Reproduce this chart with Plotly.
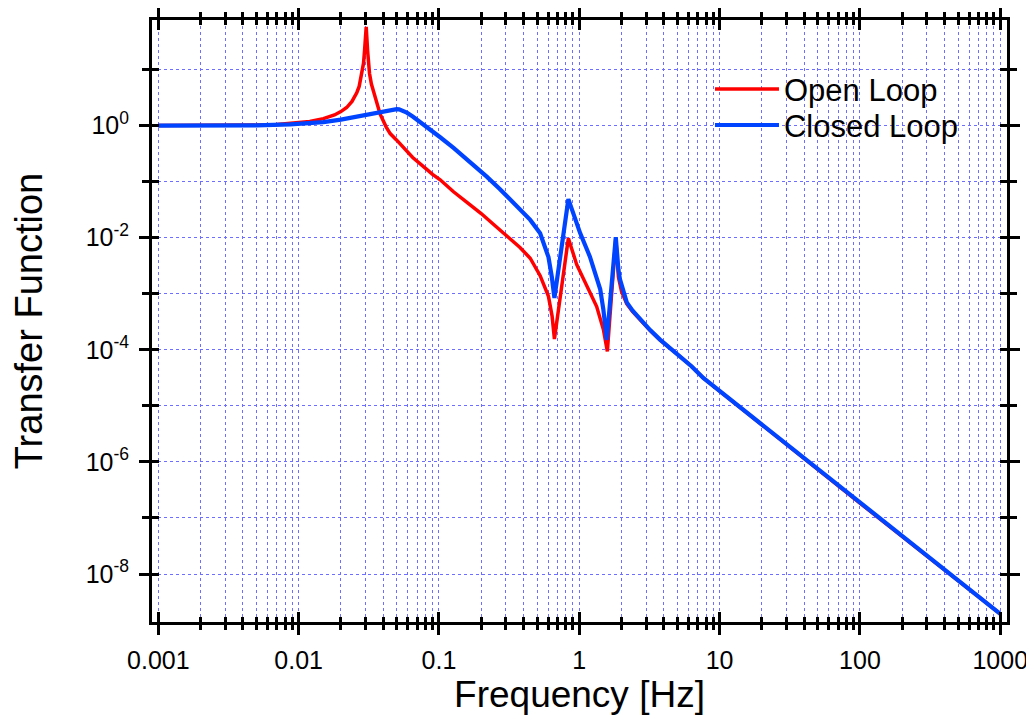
import plotly.graph_objects as go

# ---------------- data ----------------
open_f = [0.001, 0.002, 0.003, 0.005, 0.007, 0.01, 0.012, 0.015, 0.018, 0.02,
          0.022, 0.024, 0.026, 0.027, 0.028, 0.029, 0.0295, 0.0300, 0.0303,
          0.0310, 0.0315, 0.0320, 0.0330, 0.0352, 0.0381, 0.042, 0.0449, 0.050,
          0.057, 0.065, 0.0776, 0.090, 0.102, 0.127, 0.160, 0.200, 0.250, 0.300,
          0.340, 0.378, 0.447, 0.526, 0.603, 0.640, 0.665, 0.836, 0.959, 1.13,
          1.33, 1.485, 1.585, 1.82, 1.86, 1.90, 2.00, 2.18, 2.40, 2.71, 3.20, 3.76,
          4.50, 5.22, 6.30, 7.65, 10, 100, 1000]
open_v = [1.0, 1.0, 1.005, 1.02, 1.05, 1.12, 1.18, 1.33, 1.55, 1.78,
          2.1, 2.7, 3.9, 5.0, 7.5, 13, 22, 45, 58,
          22, 12, 8.5, 5.5, 3.0, 1.6, 0.95, 0.72, 0.55,
          0.38, 0.27, 0.186, 0.135, 0.108, 0.066, 0.042, 0.027, 0.0165, 0.0112,
          0.0086, 0.0067, 0.0043, 0.0021, 9e-4, 4e-4, 1.56e-4, 0.0098, 0.0033, 0.00135,
          5.9e-4, 2.3e-4, 9.4e-5, 0.0098, 0.0035, 0.002, 0.0011, 6.6e-4, 4.8e-4, 3.4e-4, 2.2e-4, 1.5e-4,
          1.05e-4, 7.6e-5, 5.1e-5, 3.14e-5, 1.84e-5, 1.84e-7, 1.95e-9]

closed_f = [0.001, 0.003, 0.005, 0.0087, 0.012, 0.015, 0.02, 0.026, 0.034, 0.040,
            0.045, 0.048, 0.050, 0.052, 0.055, 0.059, 0.065, 0.0697, 0.0776, 0.090, 0.102,
            0.127, 0.150, 0.176, 0.219, 0.270, 0.340, 0.378, 0.447, 0.526, 0.603,
            0.637, 0.665, 0.836, 1.014, 1.19, 1.41, 1.485, 1.57, 1.82, 1.84, 1.86,
            1.90, 1.95, 2.05, 2.18, 2.40, 2.71, 3.20, 3.76, 4.50, 5.22, 6.30, 7.65,
            10, 100, 1000]
closed_v = [1.0, 1.0, 1.01, 1.05, 1.1, 1.15, 1.28, 1.45, 1.66, 1.8,
            1.88, 1.94, 1.96, 1.95, 1.87, 1.7, 1.45, 1.28, 1.05, 0.8, 0.62,
            0.40, 0.28, 0.19, 0.123, 0.075, 0.0414, 0.0314, 0.0208, 0.012, 0.0045,
            0.002, 8.4e-4, 0.0488, 0.0121, 0.0046, 0.0012, 5.2e-4, 1.5e-4, 0.0102, 0.006, 0.004,
            0.0027, 0.0018, 0.0011, 7.0e-4, 5.0e-4, 3.5e-4, 2.25e-4, 1.52e-4, 1.05e-4, 7.6e-5, 5.1e-5, 3.14e-5,
            1.84e-5, 1.84e-7, 1.95e-9]

x_major = [0.001, 0.01, 0.1, 1, 10, 100, 1000]
x_labels = ["0.001", "0.01", "0.1", "1", "10", "100", "1000"]
y_major_exp = [-8, -6, -4, -2, 0]
y_minor_exp = [-7, -5, -3, -1, 1]

# ---------------- styling ----------------
FONT = "Liberation Sans, Arial, sans-serif"
GRID = "rgb(110,110,255)"
x_minor = [m * d for d in [0.0001, 0.001, 0.01, 0.1, 1, 10, 100, 1000] for m in range(2, 10)]
y_major = [10.0 ** e for e in y_major_exp]
y_labels = ["10<sup>%d</sup>" % e for e in y_major_exp]
y_minor = [10.0 ** e for e in y_minor_exp]
XR = [-3.045, 3.048]
YR = [-8.856, 1.884]

fig = go.Figure()
fig.add_trace(go.Scatter(x=open_f, y=open_v, mode="lines", name="Open Loop",
                         line=dict(color="#ff0000", width=3.5), legend="legend"))
fig.add_trace(go.Scatter(x=closed_f, y=closed_v, mode="lines", name="Closed Loop",
                         line=dict(color="#0044ff", width=4.2), legend="legend2"))
# invisible trace to carry the inward-tick overlay axes
fig.add_trace(go.Scatter(x=closed_f, y=closed_v, xaxis="x2", yaxis="y2", mode="lines",
                         line=dict(width=0, color="rgba(0,0,0,0)"), showlegend=False,
                         hoverinfo="skip"))

common_line = dict(showline=True, linecolor="black", linewidth=3, mirror="ticks",
                   tickcolor="black", tickwidth=2.5, zeroline=False, automargin=False)

legend_common = dict(xanchor="left", yanchor="middle", bgcolor="rgba(0,0,0,0)",
                     font=dict(size=31, family=FONT), itemwidth=64, borderwidth=0)

fig.update_layout(
    width=1026, height=713,
    margin=dict(l=144, r=27, t=12, b=99),
    paper_bgcolor="white", plot_bgcolor="white",
    font=dict(family=FONT, color="black"),
    xaxis=dict(type="log", range=XR, tickmode="array", tickvals=x_major, ticktext=x_labels,
               ticks="outside", ticklen=10, ticklabelstandoff=4,
               tickfont=dict(size=25, family=FONT),
               showgrid=True, gridcolor=GRID, gridwidth=1, griddash="3px,3px",
               minor=dict(tickmode="array", tickvals=x_minor, ticks="outside", ticklen=5,
                          tickwidth=2.5, tickcolor="black", showgrid=True, gridcolor=GRID,
                          gridwidth=1, griddash="3px,3px"),
               title=dict(text="Frequency [Hz]", font=dict(size=37, family=FONT), standoff=6),
               **common_line),
    yaxis=dict(type="log", range=YR, tickmode="array", tickvals=y_major, ticktext=y_labels,
               ticks="outside", ticklen=10, ticklabelstandoff=5,
               tickfont=dict(size=25, family=FONT),
               showgrid=True, gridcolor=GRID, gridwidth=1, griddash="3px,3px",
               minor=dict(tickmode="array", tickvals=y_minor, ticks="outside", ticklen=7,
                          tickwidth=2.5, tickcolor="black", showgrid=True, gridcolor=GRID,
                          gridwidth=1, griddash="3px,3px"),
               title=dict(text="Transfer Function", font=dict(size=38, family=FONT), standoff=36),
               **common_line),
    xaxis2=dict(type="log", range=XR, overlaying="x", anchor="y2", tickmode="array",
                tickvals=x_major, showticklabels=False, ticks="inside", ticklen=10,
                showgrid=False, mirror="ticks", showline=False, tickcolor="black",
                tickwidth=2.5, zeroline=False, automargin=False,
                minor=dict(tickmode="array", tickvals=x_minor, ticks="inside", ticklen=5,
                           tickwidth=2.5, tickcolor="black", showgrid=False)),
    yaxis2=dict(type="log", range=YR, overlaying="y", anchor="x2", tickmode="array",
                tickvals=y_major, showticklabels=False, ticks="inside", ticklen=7,
                showgrid=False, mirror="ticks", showline=False, tickcolor="black",
                tickwidth=2.5, zeroline=False, automargin=False,
                minor=dict(tickmode="array", tickvals=y_minor, ticks="inside", ticklen=7,
                           tickwidth=2.5, tickcolor="black", showgrid=False)),
    legend=dict(x=0.6526, y=0.885, **legend_common),
    legend2=dict(x=0.6526, y=0.825, **legend_common),
    showlegend=True,
)

fig.write_html("out.html")
